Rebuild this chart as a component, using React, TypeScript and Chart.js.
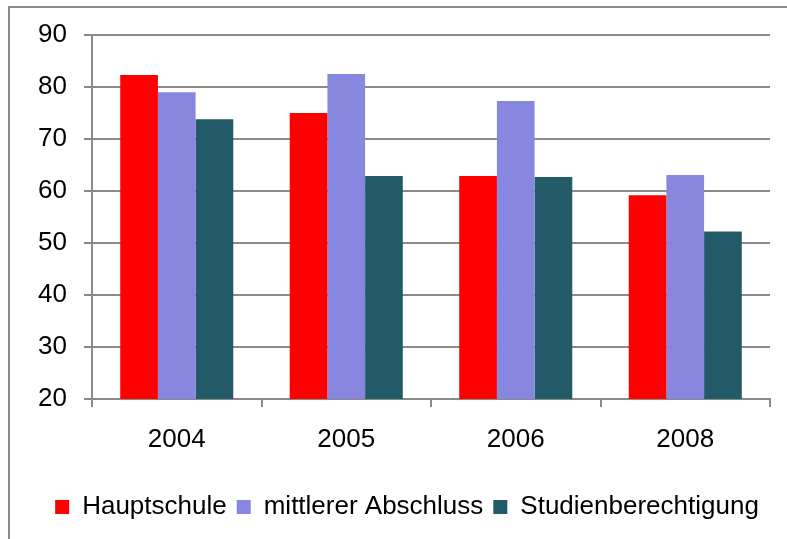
import React, { useEffect, useRef } from "react";
import { Chart, registerables } from "chart.js";

Chart.register(...registerables);

const categories = ["2004", "2005", "2006", "2008"];
const hauptschule = [82.3, 75.0, 62.9, 59.2];
const mittlererAbschluss = [79.0, 82.5, 77.3, 63.1];
const studienberechtigung = [73.8, 62.9, 62.7, 52.2];
const seriesNames = ["Hauptschule", "mittlerer Abschluss", "Studienberechtigung"];
const seriesColors = ["#FF0000", "#8787E0", "#225A68"];

const FONT = "'Liberation Sans', Arial, sans-serif";
const GRID = "#8a8a8a";

const frame = {
  id: "frame",
  afterLayout(chart: any) {
    if (chart.legend) {
      chart.legend.left += 22;
      chart.legend.right += 22;
    }
  },
  afterDraw(chart: any) {
    const ctx = chart.ctx;
    ctx.save();
    ctx.strokeStyle = "#8a8a8a";
    ctx.lineWidth = 2;
    ctx.beginPath();
    ctx.moveTo(9, 545);
    ctx.lineTo(9, 7);
    ctx.lineTo(800, 7);
    ctx.stroke();
    ctx.restore();
  },
};

export default function App() {
  const ref = useRef<HTMLCanvasElement>(null);
  useEffect(() => {
    document.body.style.margin = "0";
    const chart = new Chart(ref.current!, {
      type: "bar",
      data: {
        labels: categories,
        datasets: [hauptschule, mittlererAbschluss, studienberechtigung].map((d, i) => ({
          label: seriesNames[i],
          data: d,
          backgroundColor: seriesColors[i],
          borderWidth: 0,
          categoryPercentage: 0.667,
          barPercentage: 1,
        })),
      },
      options: {
        responsive: false,
        animation: false,
        layout: { padding: { left: 0, top: 35, right: 17, bottom: 9 } },
        plugins: {
          tooltip: { enabled: false },
          legend: {
            position: "bottom",
            labels: {
              boxWidth: 14,
              boxHeight: 14,
              padding: 10,
              color: "#000",
              font: { family: FONT, size: 26 },
            },
          },
        },
        scales: {
          x: {
            grid: {
              drawOnChartArea: false,
              drawTicks: true,
              tickLength: 8,
              color: GRID,
              lineWidth: 2,
              offset: true,
            },
            border: { color: GRID, width: 2 },
            ticks: { color: "#000", font: { family: FONT, size: 26 }, padding: 17, maxRotation: 0 },
            afterFit(scale: any) {
              scale.height = 85;
            },
          },
          y: {
            min: 20,
            max: 90,
            grid: { color: GRID, lineWidth: 2, tickLength: 8, drawTicks: true },
            border: { color: GRID, width: 2 },
            ticks: { stepSize: 10, color: "#000", font: { family: FONT, size: 26 }, padding: 17 },
            afterFit(scale: any) {
              scale.width = 92;
            },
          },
        },
      },
      plugins: [frame],
    });
    return () => chart.destroy();
  }, []);
  return (
    <div style={{ width: 787, height: 539 }}>
      <canvas ref={ref} width={787} height={539} />
    </div>
  );
}
